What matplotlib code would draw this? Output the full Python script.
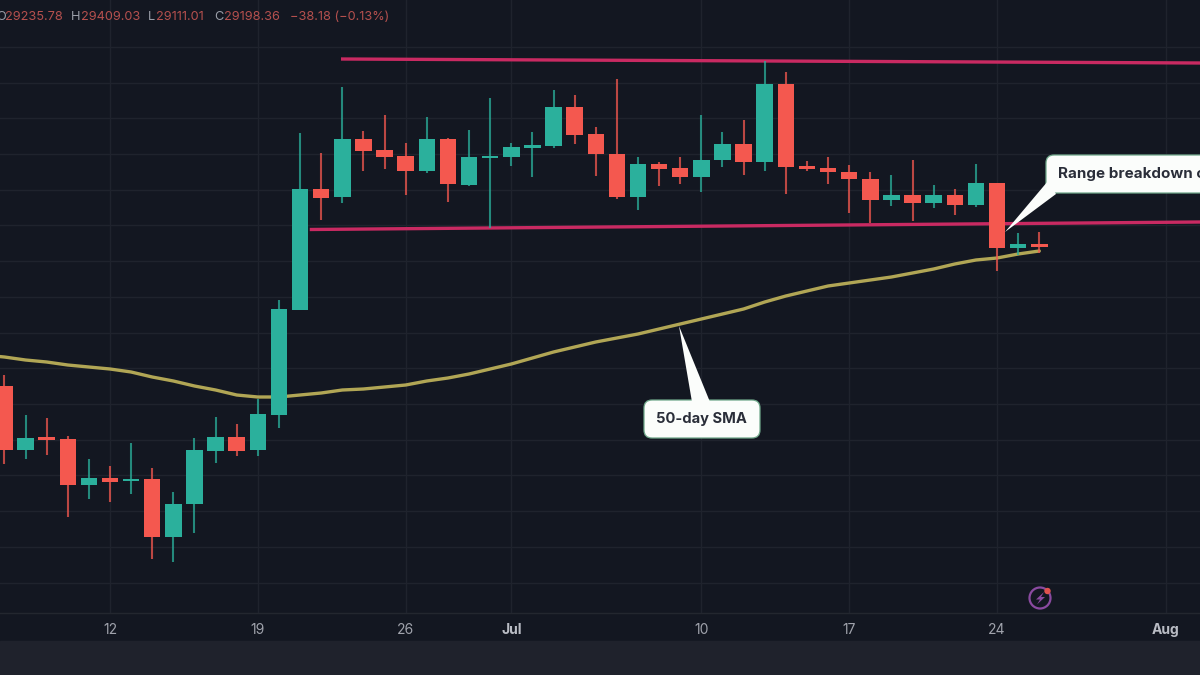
import matplotlib
matplotlib.use("Agg")
import matplotlib.pyplot as plt
import matplotlib.dates as mdates
import pandas as pd
from matplotlib.patches import FancyBboxPatch, Polygon, Circle, Rectangle

plt.rcParams['font.family'] = ['Inter', 'DejaVu Sans']

# ---- data ----
dates = pd.date_range("2023-06-07", "2023-07-26", freq="D")
opens = [27252, 26356, 26531, 26510, 25866, 25964, 25922, 25950, 25138, 25600, 26342, 26538, 26356, 26846, 28316,
         30010, 29898, 30710, 30556, 30472, 30262, 30710, 30066, 30444, 30458, 30584, 30612, 31158, 30780, 30500,
         29898, 30360, 30304, 30178, 30416, 30640, 30388, 31480, 30332, 30304, 30248, 30150, 29856, 29926, 29814,
         29926, 29786, 30094, 29184, 29236]
highs = [27406, 26846, 26804, 26552, 26230, 26132, 26454, 26104, 25768, 26524, 26818, 26720, 27070, 28456, 30794,
         30514, 31438, 30822, 31046, 30654, 31018, 30724, 30836, 31284, 30654, 30808, 31396, 31326, 30878, 31550,
         30458, 30388, 30458, 31046, 30808, 30976, 31802, 31648, 30402, 30458, 30346, 30248, 30206, 30416, 30066,
         30010, 30360, 30094, 29394, 29409]
lows = [26160, 26230, 26286, 25418, 25670, 25628, 25740, 24830, 24788, 25194, 26174, 26272, 26272, 26664, 28316,
        29576, 29814, 30262, 30290, 29926, 30234, 29828, 30052, 29464, 30332, 30178, 30584, 30640, 30192, 29870,
        29716, 30052, 30080, 29968, 30318, 30206, 30262, 29940, 30262, 30080, 29674, 29534, 29772, 29562, 29744,
        29646, 29758, 28862, 29086, 29111]
closes = [26356, 26524, 26496, 25866, 25964, 25908, 25950, 25138, 25600, 26356, 26538, 26342, 26860, 28330, 30010,
          29884, 30710, 30542, 30458, 30262, 30710, 30080, 30458, 30472, 30598, 30626, 31158, 30766, 30500, 29898,
          30360, 30290, 30178, 30416, 30640, 30388, 31480, 30318, 30290, 30248, 30150, 29856, 29926, 29814, 29926,
          29786, 30094, 29184, 29240, 29198]
sma50 = [27658, 27616, 27588, 27546, 27518, 27490, 27448, 27378, 27322, 27252, 27196, 27126, 27098, 27098, 27126,
         27154, 27196, 27210, 27238, 27266, 27322, 27364, 27420, 27490, 27560, 27644, 27728, 27798, 27868, 27924,
         27980, 28050, 28120, 28190, 28260, 28330, 28428, 28512, 28582, 28652, 28694, 28736, 28778, 28834, 28890,
         28960, 29016, 29044, 29100, 29142]
sma_before = ("2023-06-06", 27686)
range_top = [("2023-06-22 22:30", 31830), ("2023-08-02 15:00", 31774)]
range_bottom = [("2023-06-21 11:00", 29443), ("2023-08-02 15:00", 29548)]
tick_dates = ["2023-06-12", "2023-06-19", "2023-06-26", "2023-07-01", "2023-07-10", "2023-07-17", "2023-07-24", "2023-08-01"]
tick_labels = ["12", "19", "26", "Jul", "10", "17", "24", "Aug"]
bold_ticks = ["Jul", "Aug"]
header = [("O", "#9a9ea8"), ("29235.78", "#b5504e"), ("H", "#9a9ea8"), ("29409.03", "#b5504e"),
          ("L", "#9a9ea8"), ("29111.01", "#b5504e"), ("C", "#9a9ea8"), ("29198.36", "#b5504e"),
          ("\u221238.18 (\u22120.13%)", "#b5504e")]
header_x = [-4, 5, 71, 81, 148, 156, 214, 224, 290]

BG = "#131721"
GREEN = "#2bb09c"
RED = "#f4584f"
GRID = "#1f232d"

fig = plt.figure(figsize=(12, 6.75), dpi=100, facecolor=BG)
fig.add_artist(Rectangle((0, 0), 1, 34 / 675, transform=fig.transFigure, color="#1f222c", zorder=0))

ax = fig.add_axes([0, 62 / 675, 1, 613 / 675])
ax.set_facecolor(BG)
x0 = mdates.date2num(pd.Timestamp("2023-06-12"))
ax.set_xlim(x0 - 110 / 21.12, x0 + 1090 / 21.12)
ax.set_ylim(24074, 32656)
for s in ["left", "right", "top"]:
    ax.spines[s].set_visible(False)
ax.spines["bottom"].set_color("#23272f")
ax.spines["bottom"].set_linewidth(1)

ax.set_yticks(range(24500, 32500, 500))
ax.set_xticks([mdates.date2num(pd.Timestamp(d)) for d in tick_dates])
ax.set_xticklabels(tick_labels)
ax.tick_params(axis="y", left=False, labelleft=False)
ax.tick_params(axis="x", bottom=False, pad=4, labelsize=10, colors="#a0a3ac")
for t in ax.get_xticklabels():
    if t.get_text() in bold_ticks:
        t.set_fontweight("bold")
        t.set_color("#b9bcc4")
ax.grid(True, color=GRID, linewidth=1)
ax.set_axisbelow(True)

# moving average and range lines
sx = [mdates.date2num(pd.Timestamp(sma_before[0]))] + list(mdates.date2num(dates))
sy = [sma_before[1]] + sma50
ax.plot(sx, sy, color="#b1a655", lw=2.4, zorder=2, solid_capstyle="round")
for seg in (range_top, range_bottom):
    ax.plot([mdates.date2num(pd.Timestamp(d)) for d, _ in seg], [v for _, v in seg],
            color="#c92a62", lw=2.4, zorder=2, solid_capstyle="butt")

# candles
xs = mdates.date2num(dates)
for x, o, h, l, c in zip(xs, opens, highs, lows, closes):
    col = GREEN if c >= o else RED
    ax.vlines(x, l, h, color=col, lw=1.5, zorder=3, alpha=0.75)
    ax.bar(x, max(abs(c - o), 30), bottom=min(o, c), width=0.78, color=col, zorder=4, linewidth=0)

# overlay in picture coordinates for header, callouts and icon
ov = fig.add_axes([0, 0, 1, 1], facecolor="none")
ov.set_xlim(0, 1200)
ov.set_ylim(675, 0)
ov.axis("off")

for (txt, col), hx in zip(header, header_x):
    ov.text(hx, 17.5, txt, color=col, fontsize=9.2, va="center", ha="left", clip_on=True)

WHITE = "#fbfdfb"
EDGE = "#6fa88a"


def callout(x, y, w, h, tip, base, label, tx, size):
    ov.add_patch(FancyBboxPatch((x + 8, y + 8), w - 16, h - 16, boxstyle="round,pad=8,rounding_size=8",
                                fc=WHITE, ec=EDGE, lw=0.9, zorder=5))
    ov.add_patch(Polygon([tip, base[0], base[1]], closed=True, fc=WHITE, ec="none", zorder=6))
    ov.text(tx, y + h / 2, label, color="#2a2e39", fontsize=size, fontweight="bold",
            va="center", ha="left", zorder=8, clip_on=True)


callout(1046, 155, 175, 38, (1005, 232), ((1048, 181), (1056, 194)), "Range breakdown c", 1058, 10.9)
callout(644, 400, 116, 38, (679, 326), ((692, 402), (710, 402)), "50-day SMA", 656, 10.6)

# icon
ov.add_patch(Circle((1040, 598), 10.5, fc="none", ec="#8a4aa0", lw=1.6, zorder=5))
ov.add_patch(Polygon([(1044, 592), (1036, 599.5), (1040, 599.5), (1037, 604.5), (1045, 597), (1041, 597)],
                     closed=True, fc="#8a4aa0", ec="none", zorder=5))
ov.add_patch(Circle((1047.5, 591), 3.2, fc="#e0524f", ec="none", zorder=6))

fig.savefig("out.png", dpi=100, facecolor=fig.get_facecolor())
